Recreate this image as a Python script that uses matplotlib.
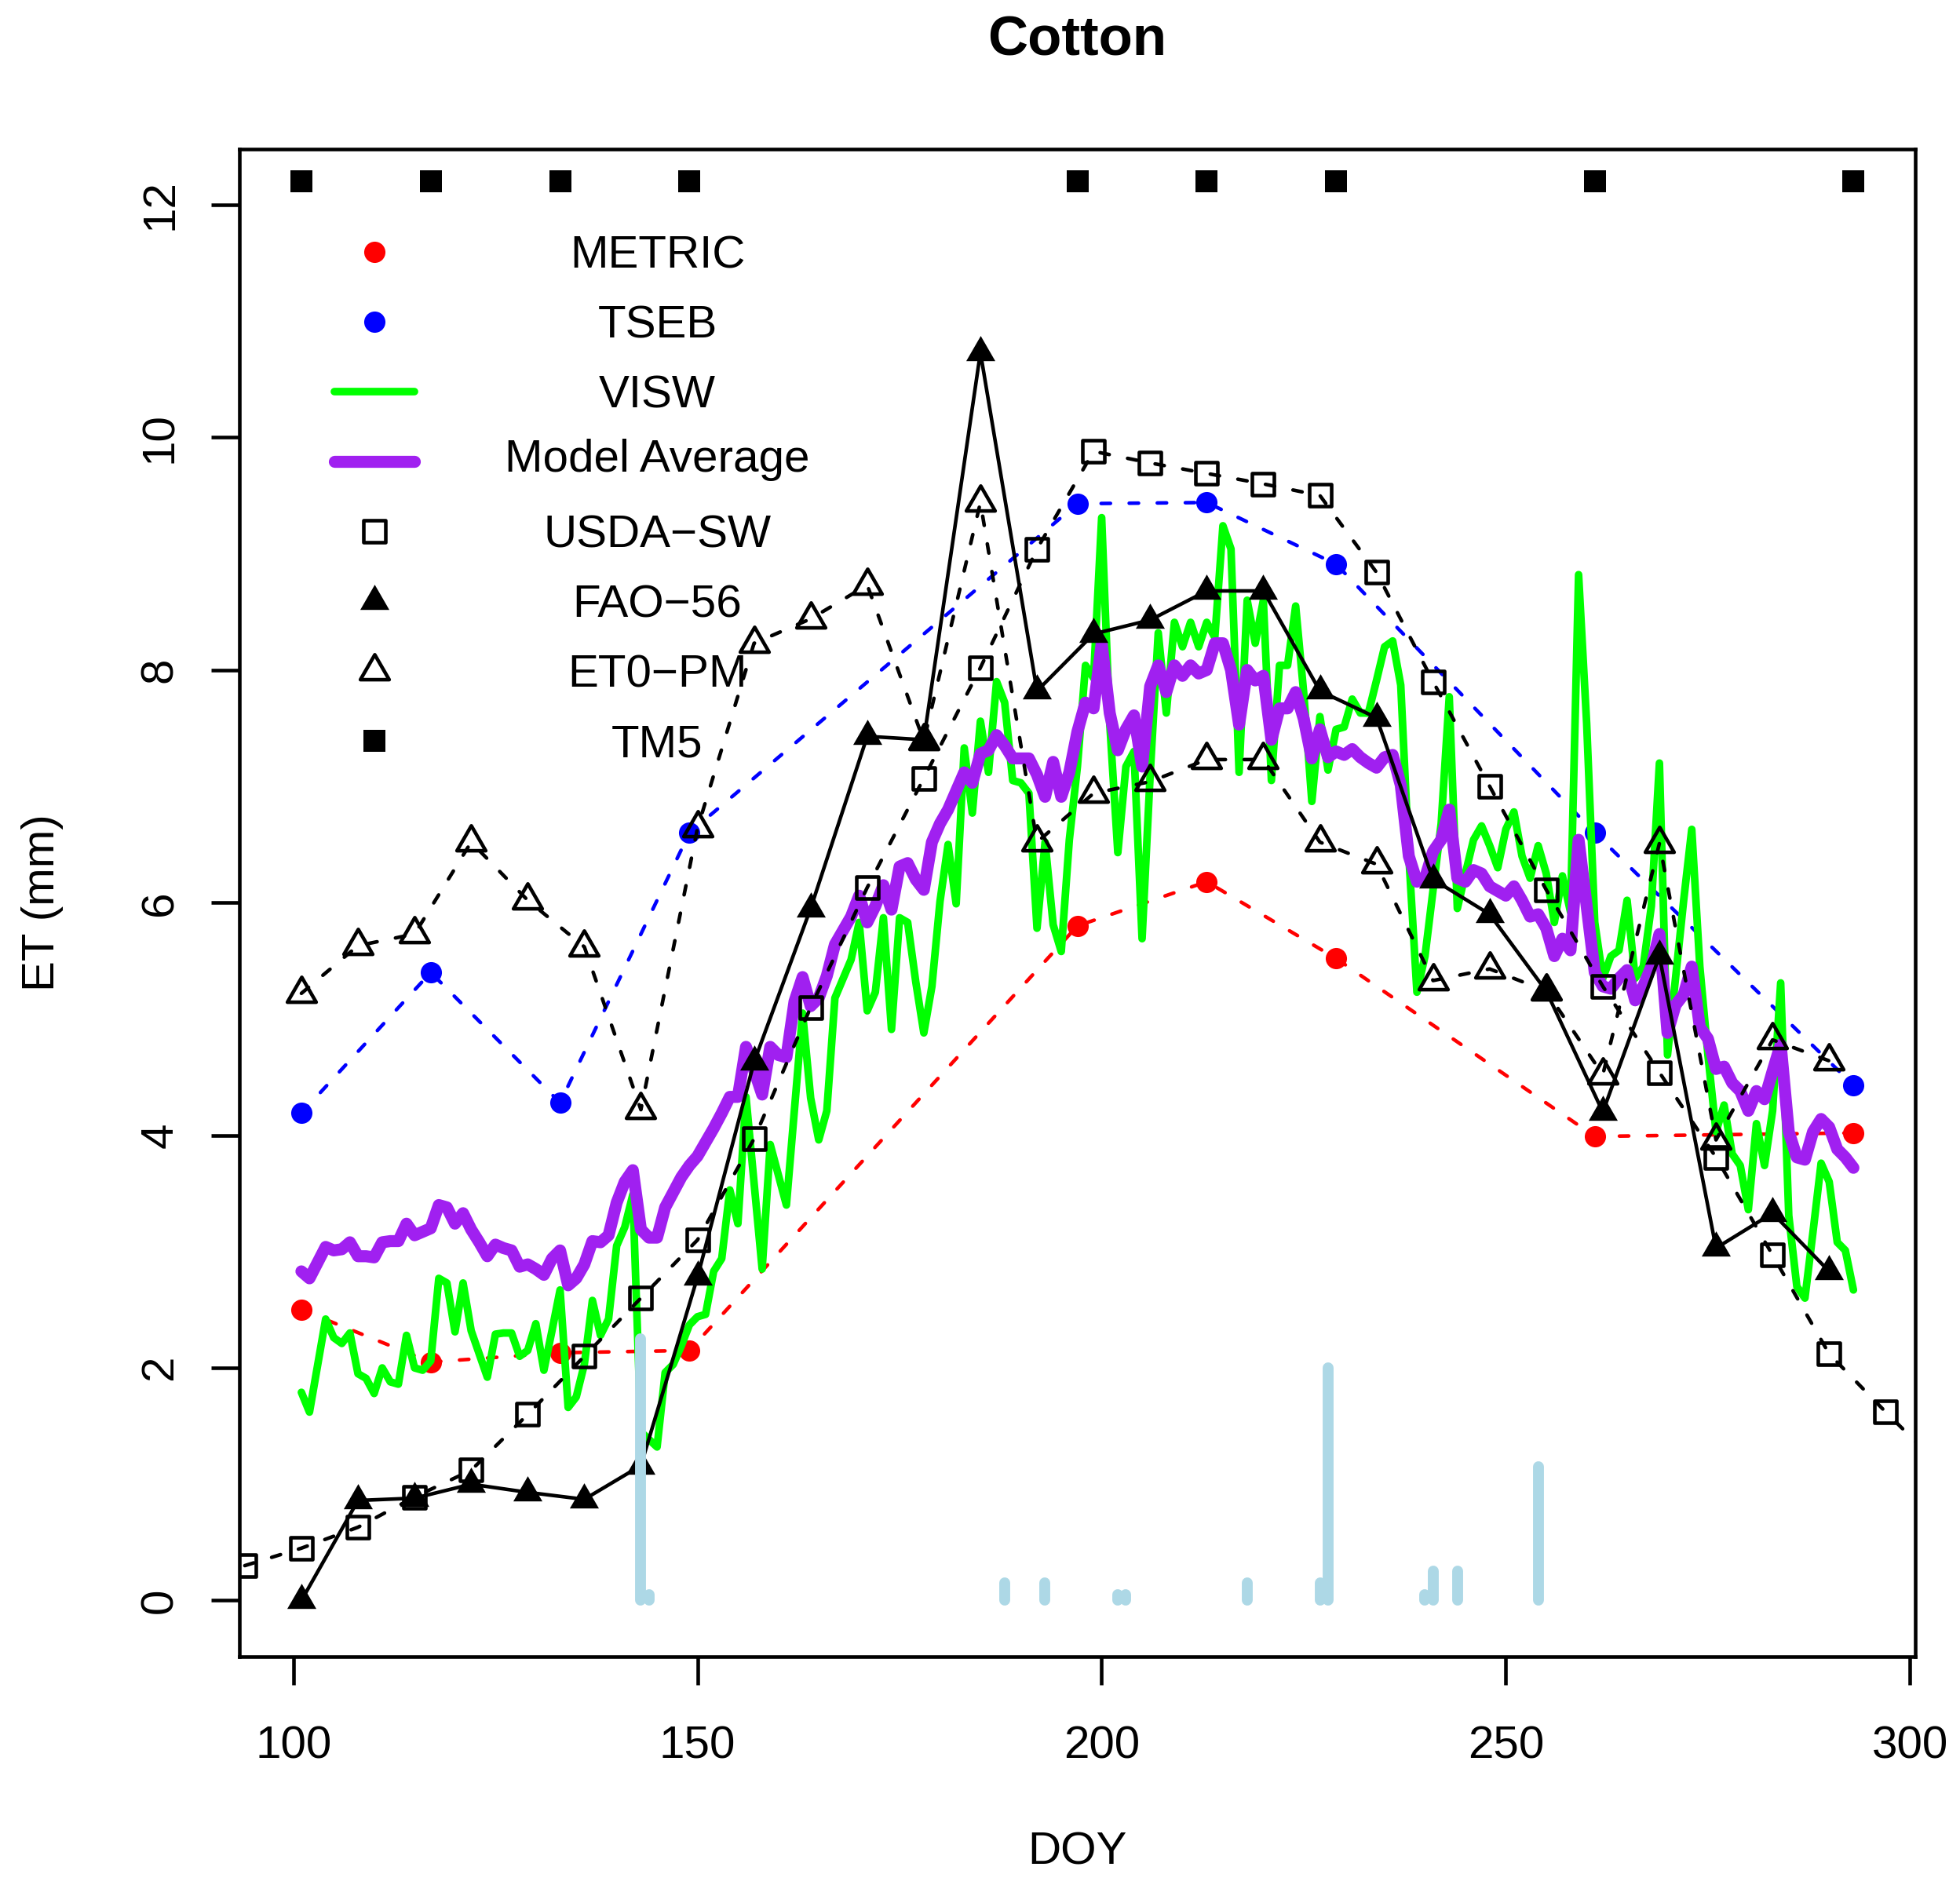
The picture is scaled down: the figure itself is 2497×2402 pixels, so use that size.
import matplotlib
matplotlib.use("Agg")
import matplotlib.pyplot as plt
from matplotlib.path import Path
from matplotlib.markers import MarkerStyle

plt.rcParams["font.family"] = ["Liberation Sans", "DejaVu Sans"]

# Landsat overpass days (METRIC, TSEB, TM5)
overpass_doy = [101, 117, 133, 149, 197, 213, 229, 261, 293]
metric_et = [2.50, 2.05, 2.13, 2.15, 5.80, 6.18, 5.52, 3.99, 4.02]
tseb_et = [4.19, 5.40, 4.28, 6.60, 9.43, 9.44, 8.91, 6.60, 4.43]
tm5_et = [12.2, 12.2, 12.2, 12.2, 12.2, 12.2, 12.2, 12.2, 12.2]

# weekly lysimeter / FAO values
usda_doy = [94, 101, 108, 115, 122, 129, 136, 143, 150, 157, 164, 171, 178, 185, 192,
            199, 206, 213, 220, 227, 234, 241, 248, 255, 262, 269, 276, 283, 290, 297, 304]
usda_et = [0.30, 0.45, 0.63, 0.89, 1.12, 1.60, 2.10, 2.60, 3.10, 3.97, 5.10, 6.13, 7.07, 8.02, 9.04,
           9.88, 9.78, 9.69, 9.60, 9.50, 8.84, 7.90, 7.00, 6.11, 5.28, 4.54, 3.81, 2.97, 2.12, 1.62, 1.14]

fao_doy = [101, 108, 115, 122, 129, 136, 143, 150, 157, 164, 171, 178, 185, 192,
           199, 206, 213, 220, 227, 234, 241, 248, 255, 262, 269, 276, 283, 290]
fao_et = [0.0, 0.86, 0.88, 1.00, 0.93, 0.87, 1.16, 2.78, 4.63, 5.95, 7.43, 7.40, 10.73, 7.82,
          8.31, 8.43, 8.68, 8.68, 7.82, 7.59, 6.20, 5.90, 5.24, 4.20, 5.54, 3.03, 3.33, 2.83]
et0_et = [5.22, 5.63, 5.73, 6.52, 6.02, 5.62, 4.22, 6.64, 8.23, 8.44, 8.73, 7.39, 9.44, 6.52,
          6.94, 7.04, 7.23, 7.23, 6.52, 6.33, 5.33, 5.43, 5.24, 4.52, 6.51, 3.96, 4.82, 4.64]

# daily VISW
visw_doy = [101, 102, 104, 105, 106, 107, 108, 109, 110, 111, 112, 113, 114, 115, 116, 117, 118,
            119, 120, 121, 122, 123, 124, 125, 126, 127, 128, 129, 130, 131, 132, 133, 134, 135,
            136, 137, 138, 139, 140, 141, 142, 143, 145, 146, 147, 148, 149, 150, 151, 152, 153,
            154, 155, 156, 158, 159, 161, 163, 164, 165, 166, 167, 169, 170, 171, 172, 173, 174,
            175, 176, 177, 178, 179, 180, 181, 182, 183, 184, 185, 186, 187, 188, 189, 190, 191,
            192, 193, 194, 195, 196, 197, 198, 199, 200, 201, 202, 203, 204, 205, 206, 207, 208,
            209, 210, 211, 212, 213, 214, 215, 216, 217, 218, 219, 220, 221, 222, 223, 224, 225,
            226, 227, 228, 229, 230, 231, 232, 233, 234, 235, 236, 237, 238, 239, 240, 241, 242,
            243, 244, 245, 246, 247, 248, 249, 250, 251, 252, 253, 254, 255, 256, 257, 258, 259,
            260, 261, 262, 263, 264, 265, 266, 267, 268, 269, 270, 272, 273, 274, 275, 276, 277,
            278, 279, 280, 281, 282, 283, 284, 285, 286, 287, 288, 289, 290, 291, 292, 293]
visw_et = [1.79, 1.62, 2.42, 2.26, 2.21, 2.30, 1.95, 1.91, 1.78, 2.00, 1.88, 1.86, 2.28, 2.00, 1.98,
           2.06, 2.77, 2.73, 2.31, 2.73, 2.32, 2.12, 1.92, 2.29, 2.30, 2.30, 2.10, 2.15, 2.38, 1.98,
           2.32, 2.67, 1.66, 1.75, 2.03, 2.58, 2.28, 2.42, 3.05, 3.21, 3.49, 1.45, 1.32, 1.96, 2.03,
           2.19, 2.37, 2.44, 2.46, 2.83, 2.94, 3.53, 3.24, 4.33, 2.85, 3.92, 3.40, 5.05, 4.32, 3.96,
           4.21, 5.18, 5.51, 5.83, 5.07, 5.23, 5.87, 4.91, 5.87, 5.83, 5.32, 4.88, 5.28, 6.01, 6.50,
           5.99, 7.33, 6.77, 7.56, 7.12, 7.90, 7.72, 7.05, 7.03, 6.94, 5.78, 6.52, 5.81, 5.58, 6.54,
           7.17, 8.04, 7.93, 9.31, 7.54, 6.43, 7.17, 7.30, 5.69, 7.10, 8.32, 7.63, 8.41, 8.20, 8.41,
           8.20, 8.41, 8.28, 9.24, 9.04, 7.12, 8.60, 8.23, 8.60, 7.05, 8.04, 8.04, 8.55, 7.80, 6.87,
           7.60, 7.14, 7.49, 7.51, 7.75, 7.63, 7.63, 7.91, 8.20, 8.25, 7.87, 6.40, 5.23, 5.54, 6.11,
           6.68, 7.77, 5.95, 6.25, 6.54, 6.66, 6.49, 6.30, 6.63, 6.78, 6.40, 6.21, 6.49, 6.25, 5.83,
           6.23, 5.92, 8.82, 7.54, 5.83, 5.35, 5.54, 5.59, 6.02, 5.35, 5.45, 5.97, 7.20, 4.69, 6.02,
           6.63, 5.45, 4.69, 4.03, 4.26, 3.84, 3.74, 3.36, 4.10, 3.74, 4.21, 5.31, 3.31, 2.70, 2.60,
           3.17, 3.76, 3.60, 3.08, 3.01, 2.67]

# daily model average
avg_doy = [101, 102, 104, 105, 106, 107, 108, 109, 110, 111, 112, 113, 114, 115, 116, 117, 118,
           119, 120, 121, 122, 123, 124, 125, 126, 127, 128, 129, 130, 131, 132, 133, 134, 135,
           136, 137, 138, 139, 140, 141, 142, 143, 144, 145, 146, 147, 148, 149, 150, 151, 152,
           153, 154, 155, 156, 157, 158, 159, 160, 161, 162, 163, 164, 165, 166, 167, 169, 170,
           171, 172, 173, 174, 175, 176, 177, 178, 179, 180, 181, 183, 184, 185, 186, 187, 188,
           189, 190, 191, 192, 193, 194, 195, 196, 197, 198, 199, 200, 201, 202, 203, 204, 205,
           206, 207, 208, 209, 210, 211, 212, 213, 214, 215, 216, 217, 218, 219, 220, 221, 222,
           223, 224, 225, 226, 227, 228, 229, 230, 231, 232, 233, 234, 235, 236, 237, 238, 239,
           240, 241, 242, 243, 244, 245, 246, 247, 248, 249, 250, 251, 252, 253, 254, 255, 256,
           257, 258, 259, 260, 261, 262, 263, 264, 265, 266, 267, 268, 269, 270, 271, 272, 273,
           274, 275, 276, 277, 278, 279, 280, 281, 282, 283, 284, 285, 286, 287, 288, 289, 290,
           291, 292, 293]
avg_et = [2.83, 2.77, 3.04, 3.01, 3.02, 3.08, 2.96, 2.96, 2.95, 3.08, 3.09, 3.09, 3.24, 3.14, 3.17,
          3.20, 3.40, 3.38, 3.24, 3.33, 3.19, 3.08, 2.96, 3.06, 3.03, 3.01, 2.87, 2.89, 2.85, 2.80,
          2.94, 3.01, 2.71, 2.77, 2.89, 3.09, 3.08, 3.14, 3.42, 3.60, 3.70, 3.19, 3.12, 3.12, 3.38,
          3.51, 3.64, 3.74, 3.82, 3.94, 4.06, 4.19, 4.33, 4.33, 4.76, 4.56, 4.35, 4.76, 4.69, 4.67,
          5.15, 5.36, 5.11, 5.18, 5.37, 5.64, 5.88, 6.06, 5.83, 5.97, 6.15, 5.94, 6.31, 6.34, 6.20,
          6.11, 6.52, 6.68, 6.80, 7.12, 7.03, 7.28, 7.31, 7.44, 7.35, 7.24, 7.24, 7.24, 7.10, 6.91,
          7.21, 6.91, 7.12, 7.47, 7.72, 7.67, 8.23, 7.63, 7.31, 7.49, 7.61, 7.17, 7.86, 8.04, 7.81,
          8.04, 7.95, 8.04, 7.97, 8.00, 8.23, 8.23, 8.00, 7.53, 8.00, 7.91, 7.95, 7.40, 7.67, 7.67,
          7.81, 7.58, 7.24, 7.49, 7.25, 7.30, 7.27, 7.32, 7.25, 7.20, 7.16, 7.25, 7.27, 7.01, 6.40,
          6.18, 6.21, 6.44, 6.54, 6.80, 6.21, 6.18, 6.28, 6.25, 6.14, 6.10, 6.06, 6.14, 6.02, 5.88,
          5.90, 5.78, 5.54, 5.69, 5.59, 6.54, 5.97, 5.40, 5.28, 5.26, 5.35, 5.42, 5.16, 5.28, 5.45,
          5.73, 4.88, 5.12, 5.21, 5.45, 4.93, 4.83, 4.57, 4.59, 4.45, 4.38, 4.21, 4.38, 4.31, 4.55,
          4.78, 4.03, 3.81, 3.79, 4.03, 4.14, 4.07, 3.88, 3.81, 3.72]

# rain / irrigation bars
rain_doy = [143, 144, 188, 193, 202, 203, 218, 227, 228, 240, 241, 244, 254]
rain_mm = [2.25, 0.05, 0.15, 0.15, 0.05, 0.05, 0.15, 0.15, 2.0, 0.05, 0.25, 0.25, 1.15]

# equilateral triangle, centred on its centroid like R's pch 2/17
tri = Path([(0, 0.5774), (-0.5, -0.2887), (0.5, -0.2887), (0, 0.5774)],
           [Path.MOVETO, Path.LINETO, Path.LINETO, Path.CLOSEPOLY])
tri_open = MarkerStyle(tri, joinstyle="round")
sq_open = MarkerStyle("s", joinstyle="round")
dash = (0, (2.6, 5.2))
lw = 3.3
green_lw, purple_lw = 7.0, 11.0

fig = plt.figure(figsize=(24.97, 24.02), dpi=100)
ax = fig.add_axes([0.1221, 0.1213, 0.8552, 0.7997])

ax.plot(overpass_doy, metric_et, color="red", ls=dash, lw=lw, dash_capstyle="round",
        marker="o", ms=19.5, mew=0)
ax.plot(overpass_doy, tseb_et, color="blue", ls=dash, lw=lw, dash_capstyle="round",
        marker="o", ms=19.5, mew=0)
ax.plot(visw_doy, visw_et, color="#00ff00", lw=green_lw, solid_joinstyle="round", solid_capstyle="round")
ax.plot(avg_doy, avg_et, color="#a020f0", lw=purple_lw, solid_joinstyle="round", solid_capstyle="round")
ax.plot(usda_doy, usda_et, color="black", ls=dash, lw=lw, dash_capstyle="round",
        marker=sq_open, ms=19.7, mew=lw, mfc="none")
ax.plot(fao_doy, fao_et, color="black", lw=lw, marker=tri, ms=30.8, mew=0)
ax.plot(fao_doy, et0_et, color="black", ls=dash, lw=lw, dash_capstyle="round",
        marker=tri_open, ms=30.5, mew=lw, mfc="none")
ax.plot(overpass_doy, tm5_et, ls="none", color="black", marker="s", ms=20.4, mew=0)
ax.vlines(rain_doy, 0, rain_mm, colors="#add8e6", lw=10, capstyle="round", zorder=5)

ax.set_xlim(93.32, 300.68)
ax.set_ylim(-0.48, 12.48)
ax.set_xticks([100, 150, 200, 250, 300])
ax.set_yticks([0, 2, 4, 6, 8, 10, 12])
for s in ax.spines.values():
    s.set_linewidth(lw)
ax.tick_params(axis="both", direction="out", length=26, width=lw, labelsize=42)
ax.tick_params(axis="x", pad=37)
ax.tick_params(axis="y", pad=27, labelrotation=90)
for lab in ax.get_yticklabels():
    lab.set_va("center")

ax.set_title("Cotton", fontsize=51, fontweight="bold", pad=86)
ax.set_xlabel("DOY", fontsize=42)
ax.set_ylabel("ET (mm)", fontsize=42)
ax.xaxis.set_label_coords(0.5, -0.1303)
ax.xaxis.label.set_va("center")
ax.yaxis.set_label_coords(-0.1175, 0.5)
ax.yaxis.label.set_va("center")

# legend, drawn by hand so the labels are centred like R's legend()
names = ["METRIC", "TSEB", "VISW", "Model Average", "USDA\u2212SW", "FAO\u221256", "ET0\u2212PM", "TM5"]
y0, step = 0.9317, 0.04633
hx, hx0, hx1, tx = 0.0805, 0.0565, 0.1045, 0.2494
for i, name in enumerate(names):
    y = y0 - i * step
    kw = dict(transform=ax.transAxes, clip_on=False)
    if i == 0:
        ax.plot([hx], [y], ls="none", color="red", marker="o", ms=19.5, mew=0, **kw)
    elif i == 1:
        ax.plot([hx], [y], ls="none", color="blue", marker="o", ms=19.5, mew=0, **kw)
    elif i == 2:
        ax.plot([hx0, hx1], [y, y], color="#00ff00", lw=green_lw, solid_capstyle="round", **kw)
    elif i == 3:
        ax.plot([hx0, hx1], [y, y], color="#a020f0", lw=purple_lw, solid_capstyle="round", **kw)
    elif i == 4:
        ax.plot([hx], [y], ls="none", color="black", marker=sq_open, ms=19.7, mew=lw, mfc="none", **kw)
    elif i == 5:
        ax.plot([hx], [y], ls="none", color="black", marker=tri, ms=30.8, mew=0, **kw)
    elif i == 6:
        ax.plot([hx], [y], ls="none", color="black", marker=tri_open, ms=30.5, mew=lw, mfc="none", **kw)
    else:
        ax.plot([hx], [y], ls="none", color="black", marker="s", ms=20.4, mew=0, **kw)
    # R centres the string box including descenders, so "g" lifts that label a bit
    ty = y + 0.0039 if "g" in name else y
    ax.text(tx, ty, name, transform=ax.transAxes, ha="center", va="center_baseline", fontsize=42)

fig.savefig("out.png", dpi=100)
